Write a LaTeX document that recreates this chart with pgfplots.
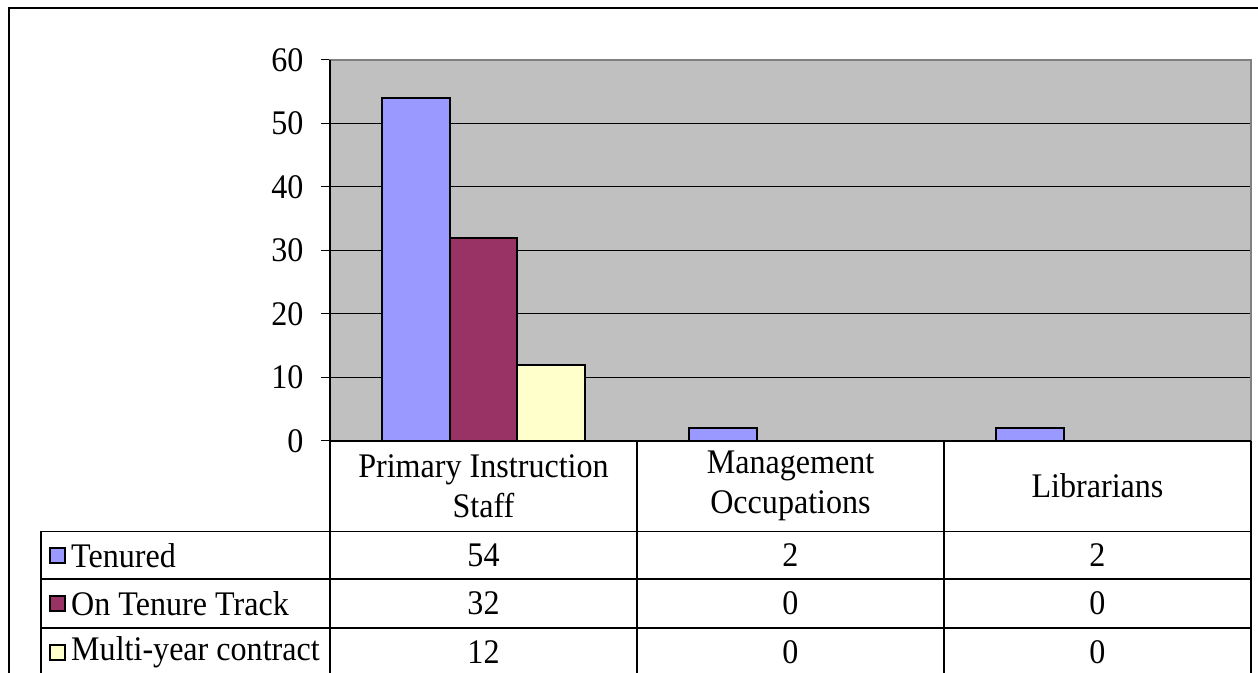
\documentclass[border=0pt]{standalone}
\usepackage{fontspec}
\setmainfont{Liberation Serif}[FakeStretch=0.93]
\usepackage{pgfplots}
\pgfplotsset{compat=1.18}
\definecolor{tenured}{HTML}{9999FF}
\definecolor{ontrack}{HTML}{993366}
\definecolor{multi}{HTML}{FFFFCC}
\definecolor{plotbg}{HTML}{C0C0C0}
\definecolor{edgegray}{HTML}{808080}
\begin{document}
\begin{tikzpicture}[x=1pt,y=1pt,font=\fontsize{34.5}{40}\selectfont]
\useasboundingbox (0,0) rectangle (1258,672);
\clip (0,0) rectangle (1258,672);
\fill[white] (0,0) rectangle (1258,672);
\draw[line width=1.5pt] (9,664) rectangle (1300,-50);
\begin{axis}[
  at={(330pt,231pt)}, anchor=south west,
  scale only axis, width=921pt, height=381pt,
  xmin=-0.5, xmax=2.5, ymin=0, ymax=60,
  ytick={0,10,...,60}, xtick=\empty,
  axis background/.style={fill=plotbg},
  ymajorgrids, grid style={black, line width=1pt},
  axis line style={edgegray, line width=1.3pt},
  tick align=outside, ytick pos=left,
  major tick length=9pt,
  tick style={black, line width=1pt},
  yticklabel style={/pgf/number format/assume math mode=true, xshift=-14pt},
  ybar=0pt, bar width=67.7pt,
]
\addplot[fill=tenured, draw=black, line width=2pt] coordinates {(0,54) (1,2) (2,2)};
\addplot[fill=ontrack, draw=black, line width=2pt] coordinates {(0,32)};
\addplot[fill=multi, draw=black, line width=2pt] coordinates {(0,12)};
\end{axis}
% left axis line black
\draw[black, line width=1.3pt] (330,612) -- (330,231);
% table
\begin{scope}[line width=1.3pt]
\draw (330,231) -- (1251,231);
\foreach \yy in {140.5,93,44,-4} \draw (41,\yy) -- (1251,\yy);
\foreach \xx in {330,637,944,1251} \draw (\xx,231) -- (\xx,-10);
\draw (41,140.5) -- (41,-10);
\end{scope}
\node[align=center] at (483.5,186) {Primary Instruction\\Staff};
\node[align=center] at (790.5,186) {Management\\Occupations};
\node[align=center] at (1097.5,186) {Librarians};
% rows
\foreach \yy/\lab/\col/\a/\b/\c in {116.5/Tenured/tenured/54/2/2, 68.5/On Tenure Track/ontrack/32/0/0, 20/Multi-year contract/multi/12/0/0}{
  \draw[fill=\col, line width=2pt] (50,\yy-7.5) rectangle (65,\yy+7.5);
  \node[anchor=west, inner sep=0pt] at (71,\yy) {\lab};
  \node at (483.5,\yy) {\a};
  \node at (790.5,\yy) {\b};
  \node at (1097.5,\yy) {\c};
}
\end{tikzpicture}
\end{document}
